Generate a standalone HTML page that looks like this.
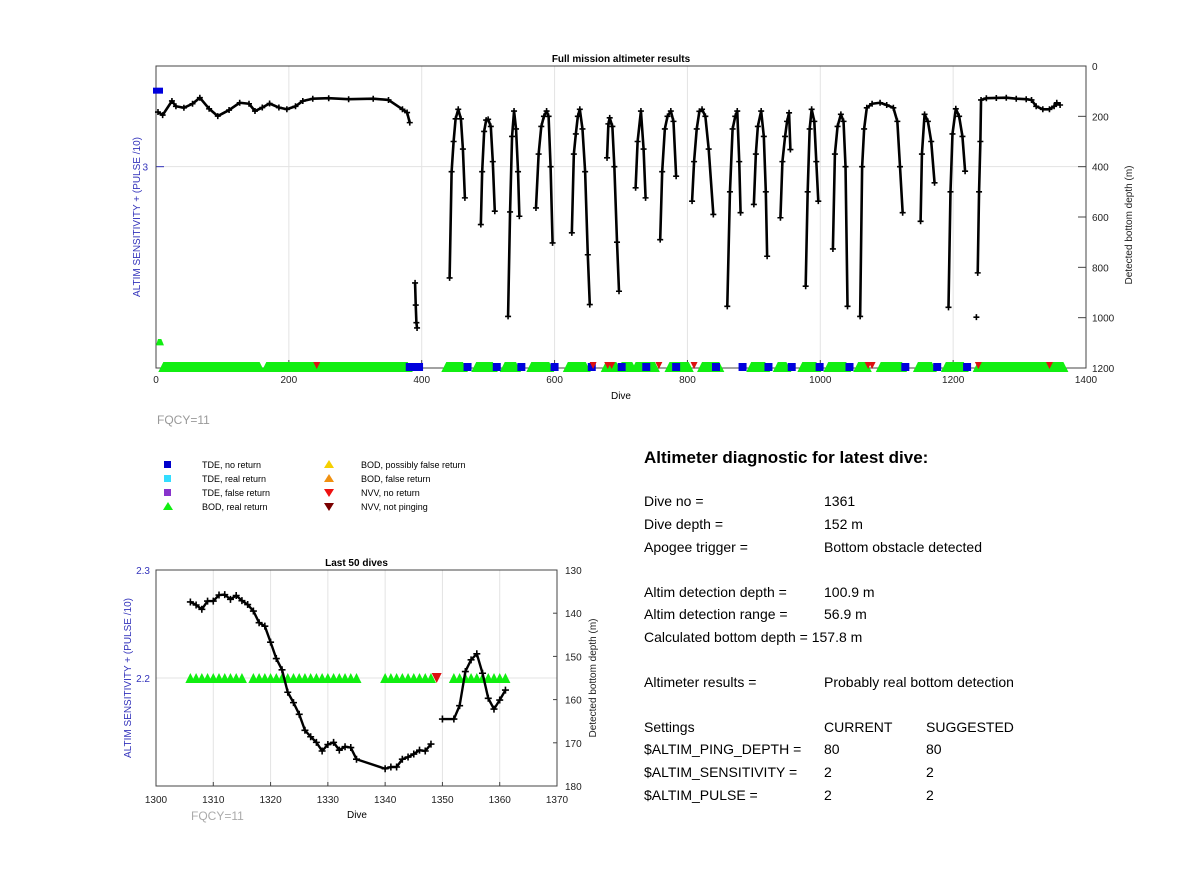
<!DOCTYPE html>
<html><head><meta charset="utf-8"><style>
body{margin:0;background:#fff;font-family:"Liberation Sans",sans-serif;}
svg text{font-family:"Liberation Sans",sans-serif;}
.t{font-size:14px;fill:#000;}
</style></head><body>
<svg id="s" width="1200" height="885" viewBox="0 0 1200 885" xmlns="http://www.w3.org/2000/svg">
<rect width="1200" height="885" fill="#fff"/>
<g id="top"></g>
<g id="bot"></g>
<text x="157" y="424" font-size="12" fill="#999">FQCY=11</text>
<g font-size="9">
<rect x="164" y="461" width="7" height="7" fill="#0000cc"/><text x="202" y="468">TDE, no return</text>
<rect x="164" y="475" width="7" height="7" fill="#33ddff"/><text x="202" y="482">TDE, real return</text>
<rect x="164" y="489" width="7" height="7" fill="#8833cc"/><text x="202" y="496">TDE, false return</text>
<polygon points="168,502 173,510 163,510" fill="#11ee11"/><text x="202" y="510">BOD, real return</text>
<polygon points="329,460 334,468 324,468" fill="#f5d000"/><text x="361" y="468">BOD, possibly false return</text>
<polygon points="329,474 334,482 324,482" fill="#f09010"/><text x="361" y="482">BOD, false return</text>
<polygon points="324,489 334,489 329,497" fill="#ee1111"/><text x="361" y="496">NVV, no return</text>
<polygon points="324,503 334,503 329,511" fill="#7a0000"/><text x="361" y="510">NVV, not pinging</text>
</g>
<g>
<text x="644" y="463" font-size="17" font-weight="bold">Altimeter diagnostic for latest dive:</text>
<text class="t" x="644" y="506">Dive no =</text><text class="t" x="824" y="506">1361</text>
<text class="t" x="644" y="529">Dive depth =</text><text class="t" x="824" y="529">152 m</text>
<text class="t" x="644" y="552">Apogee trigger =</text><text class="t" x="824" y="552">Bottom obstacle detected</text>
<text class="t" x="644" y="597">Altim detection depth =</text><text class="t" x="824" y="597">100.9 m</text>
<text class="t" x="644" y="619">Altim detection range =</text><text class="t" x="824" y="619">56.9 m</text>
<text class="t" x="644" y="642">Calculated bottom depth = 157.8 m</text>
<text class="t" x="644" y="687">Altimeter results =</text><text class="t" x="824" y="687">Probably real bottom detection</text>
<text class="t" x="644" y="732">Settings</text><text class="t" x="824" y="732">CURRENT</text><text class="t" x="926" y="732">SUGGESTED</text>
<text class="t" x="644" y="754">$ALTIM_PING_DEPTH =</text><text class="t" x="824" y="754">80</text><text class="t" x="926" y="754">80</text>
<text class="t" x="644" y="777">$ALTIM_SENSITIVITY =</text><text class="t" x="824" y="777">2</text><text class="t" x="926" y="777">2</text>
<text class="t" x="644" y="800">$ALTIM_PULSE =</text><text class="t" x="824" y="800">2</text><text class="t" x="926" y="800">2</text>
</g>
</svg>
<script>
// ---- Top chart data ----
const segDives = [
[3,10,24,30,42,55,66,80,93,110,126,140,149,160,171,185,197,210,221,236,260,290,327,350,371,378,382],
[390,391,392,393],
[442,445,448,451,455,459,462,465],
[489,491,494,497,500,504,507,510],
[530,533,536,539,542,545,547],
[572,576,580,584,588,591,594,597],
[626,629,632,635,638,642,646,650,653],
[679,681,683,687,690,694,697],
[722,725,730,734,737],
[759,762,766,770,775,779,783],
[807,810,814,818,822,827,832,839],
[860,864,868,872,875,878,880],
[900,903,906,911,915,918,920],
[940,943,947,950,953,955],
[978,981,984,987,991,994,997],
[1019,1022,1026,1031,1035,1038,1041],
[1060,1063,1066,1070,1078,1090,1100,1110,1116,1120,1124],
[1151,1153,1157,1162,1167,1172],
[1193,1196,1199,1204,1209,1214,1218],
[1235],
[1237,1239,1241,1242,1250,1265,1280,1295,1310,1318,1325,1335,1345,1352,1356,1361]
];
const segDepths = [
[183,195,139,160,166,150,126,170,199,175,146,150,179,165,149,165,172,160,139,130,128,132,130,135,172,185,225],
[862,950,1020,1041],
[842,420,300,210,172,210,330,524],
[630,420,260,215,212,240,380,577],
[995,580,280,179,250,420,597],
[564,350,240,200,179,200,400,703],
[663,350,270,200,172,250,420,750,948],
[365,230,206,240,400,700,895],
[484,300,179,330,524],
[690,420,250,200,179,220,438],
[537,380,250,180,172,200,330,590],
[955,500,250,200,179,380,583],
[550,350,240,179,280,500,756],
[603,380,280,220,186,332],
[875,500,250,172,220,380,537],
[727,350,240,192,220,400,955],
[995,400,250,166,150,146,155,166,220,400,583],
[617,350,192,220,300,464],
[959,500,270,170,200,280,418],
[998],
[822,500,300,135,128,127,126,130,132,135,160,172,172,160,146,155]
];
const bodRunStart = [11,166,437,482,525,565,620,677,701,722,773,822,896,936,973,1012,1057,1091,1147,1189,1237];
const bodRunEnd   = [156,379,462,507,542,592,647,693,717,751,802,848,917,949,994,1039,1070,1123,1168,1216,1366];
const tdeNoReturnDives = [382,390,396,469,513,550,600,656,701,738,783,843,883,922,957,999,1044,1128,1176,1221];
const nvvDives = [242,658,680,686,757,810,1072,1078,1238,1345];
const xTicksTop = [0,200,400,600,800,1000,1200,1400];
const depthTicksTop = [0,200,400,600,800,1000,1200];

// ---- Bottom chart data ----
const lastDives = [1306,1307,1308,1309,1310,1311,1312,1313,1314,1315,1316,1317,1318,1319,1320,1321,1322,1323,1324,1325,1326,1327,1328,1329,1330,1331,1332,1333,1334,1335,1340,1341,1342,1343,1344,1345,1346,1347,1348];
const lastDepths = [137.4,138.1,139.1,137.2,137.2,135.8,135.7,136.8,135.9,137.1,138.0,139.5,142.2,143.0,146.7,150.5,153.1,158.3,160.7,163.4,167.1,168.6,169.9,171.9,170.4,169.9,171.7,170.9,171.1,173.8,176.0,175.6,175.6,173.8,173.3,172.6,171.7,171.9,170.3];
const lastDives2 = [1350,1352,1353,1354,1355,1356,1357,1358,1359,1360,1361];
const lastDepths2 = [164.5,164.5,161.4,153.5,150.8,149.4,153.9,159.7,162.2,160.1,157.8];
const bodDivesLast = [1306,1307,1308,1309,1310,1311,1312,1313,1314,1315,1317,1318,1319,1320,1321,1322,1323,1324,1325,1326,1327,1328,1329,1330,1331,1332,1333,1334,1335,1340,1341,1342,1343,1344,1345,1346,1347,1348,1352,1353,1354,1355,1356,1357,1358,1359,1360,1361];
const nvvDivesLast = [1349];
const xTicksBot = [1300,1310,1320,1330,1340,1350,1360,1370];
const depthTicksBot = [130,140,150,160,170,180];

const NS="http://www.w3.org/2000/svg";
function mk(parent,tag,attrs){const e=document.createElementNS(NS,tag);for(const k in attrs)e.setAttribute(k,attrs[k]);parent.appendChild(e);return e;}

// ---- top ----
const T=document.getElementById('top');
const X0=156,X1=1086,Y0=66,Y1=368;
const tx=d=>X0+d*(X1-X0)/1400, ty=v=>Y0+v*(Y1-Y0)/1200;
mk(T,'rect',{x:X0,y:Y0,width:X1-X0,height:Y1-Y0,fill:'#fff'});
xTicksTop.forEach(d=>{
  if(d>0&&d<1400){const g=mk(T,'line',{x1:tx(d),x2:tx(d),y1:Y0,y2:Y1,stroke:'#e3e3e3'});
  
  }
  mk(T,'line',{x1:tx(d),x2:tx(d),y1:Y1,y2:Y1-8,stroke:'#444'});
  const l=mk(T,'text',{x:tx(d),y:Y1+15,'font-size':10,'text-anchor':'middle',fill:'#222'});
  
  
  l.textContent=d;
});
mk(T,'line',{x1:X0,x2:X1,y1:ty(400),y2:ty(400),stroke:'#e3e3e3'});
depthTicksTop.forEach(v=>{
  mk(T,'line',{x1:X1,x2:X1-8,y1:ty(v),y2:ty(v),stroke:'#444'});
  const l=mk(T,'text',{x:X1+6,y:ty(v)+4,'font-size':10,fill:'#222'});
  
  
  l.textContent=v;
});
mk(T,'line',{x1:X0,x2:X0+8,y1:ty(400),y2:ty(400),stroke:'#3333bb'});
mk(T,'text',{x:X0-8,y:ty(400)+4,'font-size':10,fill:'#3333bb','text-anchor':'end'}).textContent='3';
mk(T,'rect',{x:X0,y:Y0,width:X1-X0,height:Y1-Y0,fill:'none',stroke:'#444','stroke-width':1});
mk(T,'text',{x:(X0+X1)/2,y:Y0-4,'font-size':10,'font-weight':'bold','text-anchor':'middle'}).textContent='Full mission altimeter results';
mk(T,'text',{x:(X0+X1)/2,y:Y1+31,'font-size':10,'text-anchor':'middle'}).textContent='Dive';
mk(T,'text',{x:0,y:0,'font-size':10,fill:'#3333bb','text-anchor':'middle',transform:`translate(140,${(Y0+Y1)/2}) rotate(-90)`}).textContent='ALTIM SENSITIVITY + (PULSE /10)';
mk(T,'text',{x:0,y:0,'font-size':10,fill:'#222','text-anchor':'middle',transform:`translate(1132,${(Y0+Y1)/2+8}) rotate(-90)`}).textContent='Detected bottom depth (m)';
// bands
const bandY=ty(1200)-1;
for(let i=0;i<bodRunStart.length;i++){
  const a=tx(bodRunStart[i]),b=tx(bodRunEnd[i]);
  const p=mk(T,'polygon',{points:`${a-5},${bandY+5} ${a},${bandY-5} ${b},${bandY-5} ${b+5},${bandY+5}`,fill:'#11ee11'});
  
  
}
mk(T,'polygon',{points:`${tx(0)},${ty(1110)} ${tx(3)},${ty(1085)} ${tx(8)},${ty(1085)} ${tx(12)},${ty(1110)}`,fill:'#11ee11'});
tdeNoReturnDives.forEach(d=>{
  const r=mk(T,'rect',{x:tx(d)-4,y:bandY-4,width:8,height:8,fill:'#0000dd'});
  
  
});
mk(T,'rect',{x:tx(0)-3,y:ty(98)-3,width:10,height:6,fill:'#0000dd'});
nvvDives.forEach(d=>{
  const p=mk(T,'polygon',{points:`${tx(d)-3.5},${bandY-5} ${tx(d)+3.5},${bandY-5} ${tx(d)},${bandY+2}`,fill:'#dd1111'});
  
  
});
// series
segDives.forEach((ds,i)=>{
  const pts=ds.map((d,j)=>tx(d)+','+ty(segDepths[i][j])).join(' ');
  const pl=mk(T,'polyline',{points:pts,fill:'none',stroke:'#000','stroke-width':2.6,'stroke-linejoin':'round'});
  
  
  ds.forEach((d,j)=>{
    const x=tx(d),y=ty(segDepths[i][j]);
    const m=mk(T,'path',{d:`M${x-3},${y}H${x+3}M${x},${y-3}V${y+3}`,stroke:'#000','stroke-width':1.6});
    
    
  });
});

// ---- bottom ----
const B=document.getElementById('bot');
const BX0=156,BX1=557,BY0=570,BY1=786;
const bx=d=>BX0+(d-1300)*(BX1-BX0)/70, by=v=>BY0+(v-130)*(BY1-BY0)/50;
xTicksBot.forEach(d=>{
  if(d>1300&&d<1370){const g=mk(B,'line',{x1:bx(d),x2:bx(d),y1:BY0,y2:BY1,stroke:'#e3e3e3'});
  
  }
  mk(B,'line',{x1:bx(d),x2:bx(d),y1:BY1,y2:BY1-4,stroke:'#444'});
  const l=mk(B,'text',{x:bx(d),y:BY1+17,'font-size':10,'text-anchor':'middle',fill:'#222'});
  
  
  l.textContent=d;
});
const yTri=678;
mk(B,'line',{x1:BX0,x2:BX1,y1:yTri,y2:yTri,stroke:'#e3e3e3'});
depthTicksBot.forEach(v=>{
  mk(B,'line',{x1:BX1,x2:BX1-4,y1:by(v),y2:by(v),stroke:'#444'});
  const l=mk(B,'text',{x:BX1+8,y:by(v)+4,'font-size':10,fill:'#222'});
  
  
  l.textContent=v;
});
mk(B,'text',{x:BX0-6,y:BY0+4,'font-size':10,fill:'#3333bb','text-anchor':'end'}).textContent='2.3';
mk(B,'text',{x:BX0-6,y:yTri+4,'font-size':10,fill:'#3333bb','text-anchor':'end'}).textContent='2.2';
mk(B,'rect',{x:BX0,y:BY0,width:BX1-BX0,height:BY1-BY0,fill:'none',stroke:'#444'});
mk(B,'text',{x:(BX0+BX1)/2,y:BY0-4,'font-size':10,'font-weight':'bold','text-anchor':'middle'}).textContent='Last 50 dives';
mk(B,'text',{x:357,y:818,'font-size':10,'text-anchor':'middle'}).textContent='Dive';
mk(B,'text',{x:191,y:820,'font-size':12,fill:'#aaa'}).textContent='FQCY=11';
mk(B,'text',{x:0,y:0,'font-size':10,fill:'#3333bb','text-anchor':'middle',transform:`translate(131,${(BY0+BY1)/2}) rotate(-90)`}).textContent='ALTIM SENSITIVITY + (PULSE /10)';
mk(B,'text',{x:0,y:0,'font-size':10,fill:'#222','text-anchor':'middle',transform:`translate(596,${(BY0+BY1)/2}) rotate(-90)`}).textContent='Detected bottom depth (m)';
bodDivesLast.forEach(d=>{
  const p=mk(B,'polygon',{points:`${bx(d)-5},${yTri+5} ${bx(d)},${yTri-5} ${bx(d)+5},${yTri+5}`,fill:'#11ee11'});
  
  
});
nvvDivesLast.forEach(d=>{
  const p=mk(B,'polygon',{points:`${bx(d)-5},${yTri-5} ${bx(d)+5},${yTri-5} ${bx(d)},${yTri+5}`,fill:'#dd1111'});
  
  
});
[[lastDives,lastDepths],[lastDives2,lastDepths2]].forEach(([ds,vs])=>{
  const pl=mk(B,'polyline',{points:ds.map((d,j)=>bx(d)+','+by(vs[j])).join(' '),fill:'none',stroke:'#000','stroke-width':2.4,'stroke-linejoin':'round'});
  
  
  ds.forEach((d,j)=>{
    const x=bx(d),y=by(vs[j]);
    const m=mk(B,'path',{d:`M${x-3.5},${y}H${x+3.5}M${x},${y-3.5}V${y+3.5}`,stroke:'#000','stroke-width':1.6});
    
    
  });
});
</script>
</body></html>
